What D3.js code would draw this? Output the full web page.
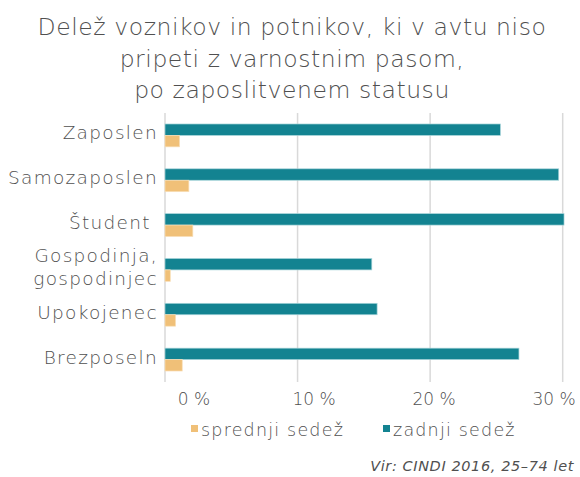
<!DOCTYPE html>
<html>
<head>
<meta charset="utf-8">
<script src="https://cdn.jsdelivr.net/npm/d3@7"></script>
<style>
  html, body { margin: 0; padding: 0; background: #fff; }
  svg { display: block; font-family: "DejaVu Sans", sans-serif; }
</style>
</head>
<body>
<svg id="chart" width="580" height="477"></svg>
<script>
// Employment status categories (top to bottom)
const categories = ["Zaposlen", "Samozaposlen", "Študent ", "Gospodinja,\ngospodinjec", "Upokojenec", "Brezposeln"];
// Share not wearing a seat belt, in %
const rearSeat  = [25.3, 29.7, 30.1, 15.6, 16.0, 26.7];
const frontSeat = [1.1, 1.8, 2.1, 0.4, 0.8, 1.3];
const seriesNames = ["sprednji sedež", "zadnji sedež"];
const ticks = [0, 10, 20, 30];
const titleLines = ["Delež voznikov in potnikov, ki v avtu niso", "pripeti z varnostnim pasom,", "po zaposlitvenem statusu"];
const sourceText = "Vir: CINDI 2016, 25–74 let";

const colFront = "#f0c078";
const colRear = "#138391";
const textCol = "#505050";
const gridCol = "#d9d9d9";

const svg = d3.select("#chart");
const fontW = 200;

const x = d3.scaleLinear().domain([0, 30]).range([165, 562.7]);
const y = d3.scaleBand().domain(categories).range([113, 382]).paddingInner(0.49).paddingOuter(0.245);
const sub = d3.scaleBand().domain(["rear", "front"]).range([0, y.bandwidth()]);

// Title
svg.append("g").selectAll("text").data(titleLines).join("text")
  .attr("x", 292).attr("y", (d, i) => 35 + i * 31.5)
  .attr("text-anchor", "middle").attr("fill", textCol)
  .attr("font-size", 23.5).attr("font-weight", fontW)
  .attr("letter-spacing", 0.55)
  .text(d => d);

// Gridlines
svg.append("g").selectAll("line").data(ticks).join("line")
  .attr("x1", d => x(d)).attr("x2", d => x(d))
  .attr("y1", 113).attr("y2", 382)
  .attr("stroke", gridCol).attr("stroke-width", 1.5);

// Bars
const groups = svg.append("g").selectAll("g").data(categories).join("g")
  .attr("transform", d => `translate(0,${y(d)})`);

groups.append("rect")
  .attr("x", x(0)).attr("y", sub("rear"))
  .attr("width", (d, i) => x(rearSeat[i]) - x(0))
  .attr("height", sub.bandwidth())
  .attr("fill", colRear).attr("stroke", "#a9d5da").attr("stroke-width", 0.7);

groups.append("rect")
  .attr("x", x(0)).attr("y", sub("front"))
  .attr("width", (d, i) => x(frontSeat[i]) - x(0))
  .attr("height", sub.bandwidth())
  .attr("fill", colFront).attr("stroke", "#f8dfb8").attr("stroke-width", 0.7);

// Category labels
const catLabels = svg.append("g").selectAll("text").data(categories).join("text")
  .attr("text-anchor", "end").attr("fill", textCol)
  .attr("font-size", 18.5).attr("font-weight", fontW)
  .attr("letter-spacing", 1.3)
  .style("white-space", "pre")
  .attr("transform", d => `translate(158,${y(d) + y.bandwidth() / 2})`);
catLabels.each(function(d) {
  const lines = d.split("\n");
  const t = d3.select(this);
  lines.forEach((ln, i) => {
    t.append("tspan").attr("x", 0)
      .attr("y", (i - (lines.length - 1) / 2) * 23 + 4)
      .text(ln);
  });
});

// Tick labels
const tickPos = d3.scaleLinear().domain([0, 30]).range([194, 554]);
svg.append("g").selectAll("text").data(ticks).join("text")
  .attr("x", d => tickPos(d)).attr("y", 405)
  .attr("text-anchor", "middle").attr("fill", textCol)
  .attr("font-size", 17).attr("font-weight", fontW)
  .text(d => d + " %");

// Legend
const legend = svg.append("g").selectAll("g").data(seriesNames).join("g")
  .attr("transform", (d, i) => `translate(${[191, 383][i]},0)`);
legend.append("rect").attr("x", 0).attr("y", 425).attr("width", 7).attr("height", 7)
  .attr("fill", (d, i) => [colFront, colRear][i]);
legend.append("text").attr("x", 10).attr("y", 436)
  .attr("fill", textCol).attr("font-size", 17.5).attr("font-weight", fontW)
  .attr("letter-spacing", 1.2)
  .text(d => d);

// Source
svg.append("text").attr("x", 574).attr("y", 471)
  .attr("text-anchor", "end").attr("fill", "#505050")
  .attr("font-size", 14.5).attr("font-style", "italic").attr("font-weight", 400)
  .attr("letter-spacing", 0.6)
  .text(sourceText);
</script>
</body>
</html>
